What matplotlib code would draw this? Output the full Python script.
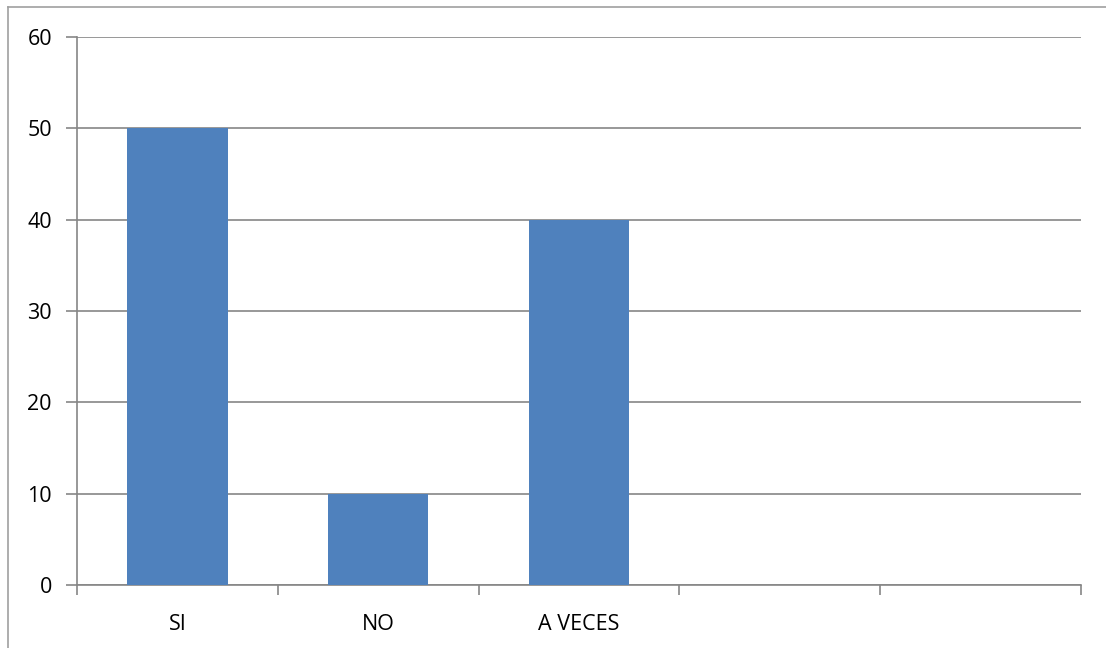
import matplotlib
matplotlib.use("Agg")
import matplotlib.pyplot as plt
from matplotlib.lines import Line2D

categories = ["SI", "NO", "A VECES", "", ""]
values = [50, 10, 40, 0, 0]
yticks = [0, 10, 20, 30, 40, 50, 60]

W, H = 1106, 648
fig = plt.figure(figsize=(W / 100, H / 100), dpi=100)
plt.rcParams['font.family'] = ['Open Sans', 'DejaVu Sans']

left, right, top, bottom = 77, 1081, 37, 585
ax = fig.add_axes([left / W, 1 - bottom / H, (right - left) / W, (bottom - top) / H])

gray = "#868686"
x = list(range(len(categories)))
ax.bar(x, values, width=0.5, color="#4F81BD", zorder=3)
ax.set_xlim(-0.5, len(categories) - 0.5)
ax.set_ylim(0, 60)
ax.set_yticks(yticks)
ax.set_yticklabels([str(v) for v in yticks], fontsize=15.5)
ax.yaxis.grid(True, color=gray, linewidth=1.2, zorder=0)
ax.set_xticks([i - 0.5 for i in range(len(categories) + 1)])
ax.set_xticklabels([])
ax.set_xticks(x, minor=True)
ax.set_xticklabels(categories, minor=True, fontsize=15.5)
ax.tick_params(axis='x', which='minor', length=0, pad=21)
ax.tick_params(axis='x', which='major', length=7, width=1.2, color=gray, direction='out')
ax.tick_params(axis='y', length=8, width=1.2, color=gray, pad=10)
for s in ['top', 'right']:
    ax.spines[s].set_visible(False)
for s in ['left', 'bottom']:
    ax.spines[s].set_color(gray)
    ax.spines[s].set_linewidth(1.2)

# outer chart border (left and top visible)
fig.add_artist(Line2D([8 / W, 8 / W], [0, 1 - 7 / H], color="#A0A0A0", linewidth=1.2, transform=fig.transFigure))
fig.add_artist(Line2D([8 / W, 1], [1 - 7 / H, 1 - 7 / H], color="#A0A0A0", linewidth=1.2, transform=fig.transFigure))

fig.savefig("out.png", dpi=100)
